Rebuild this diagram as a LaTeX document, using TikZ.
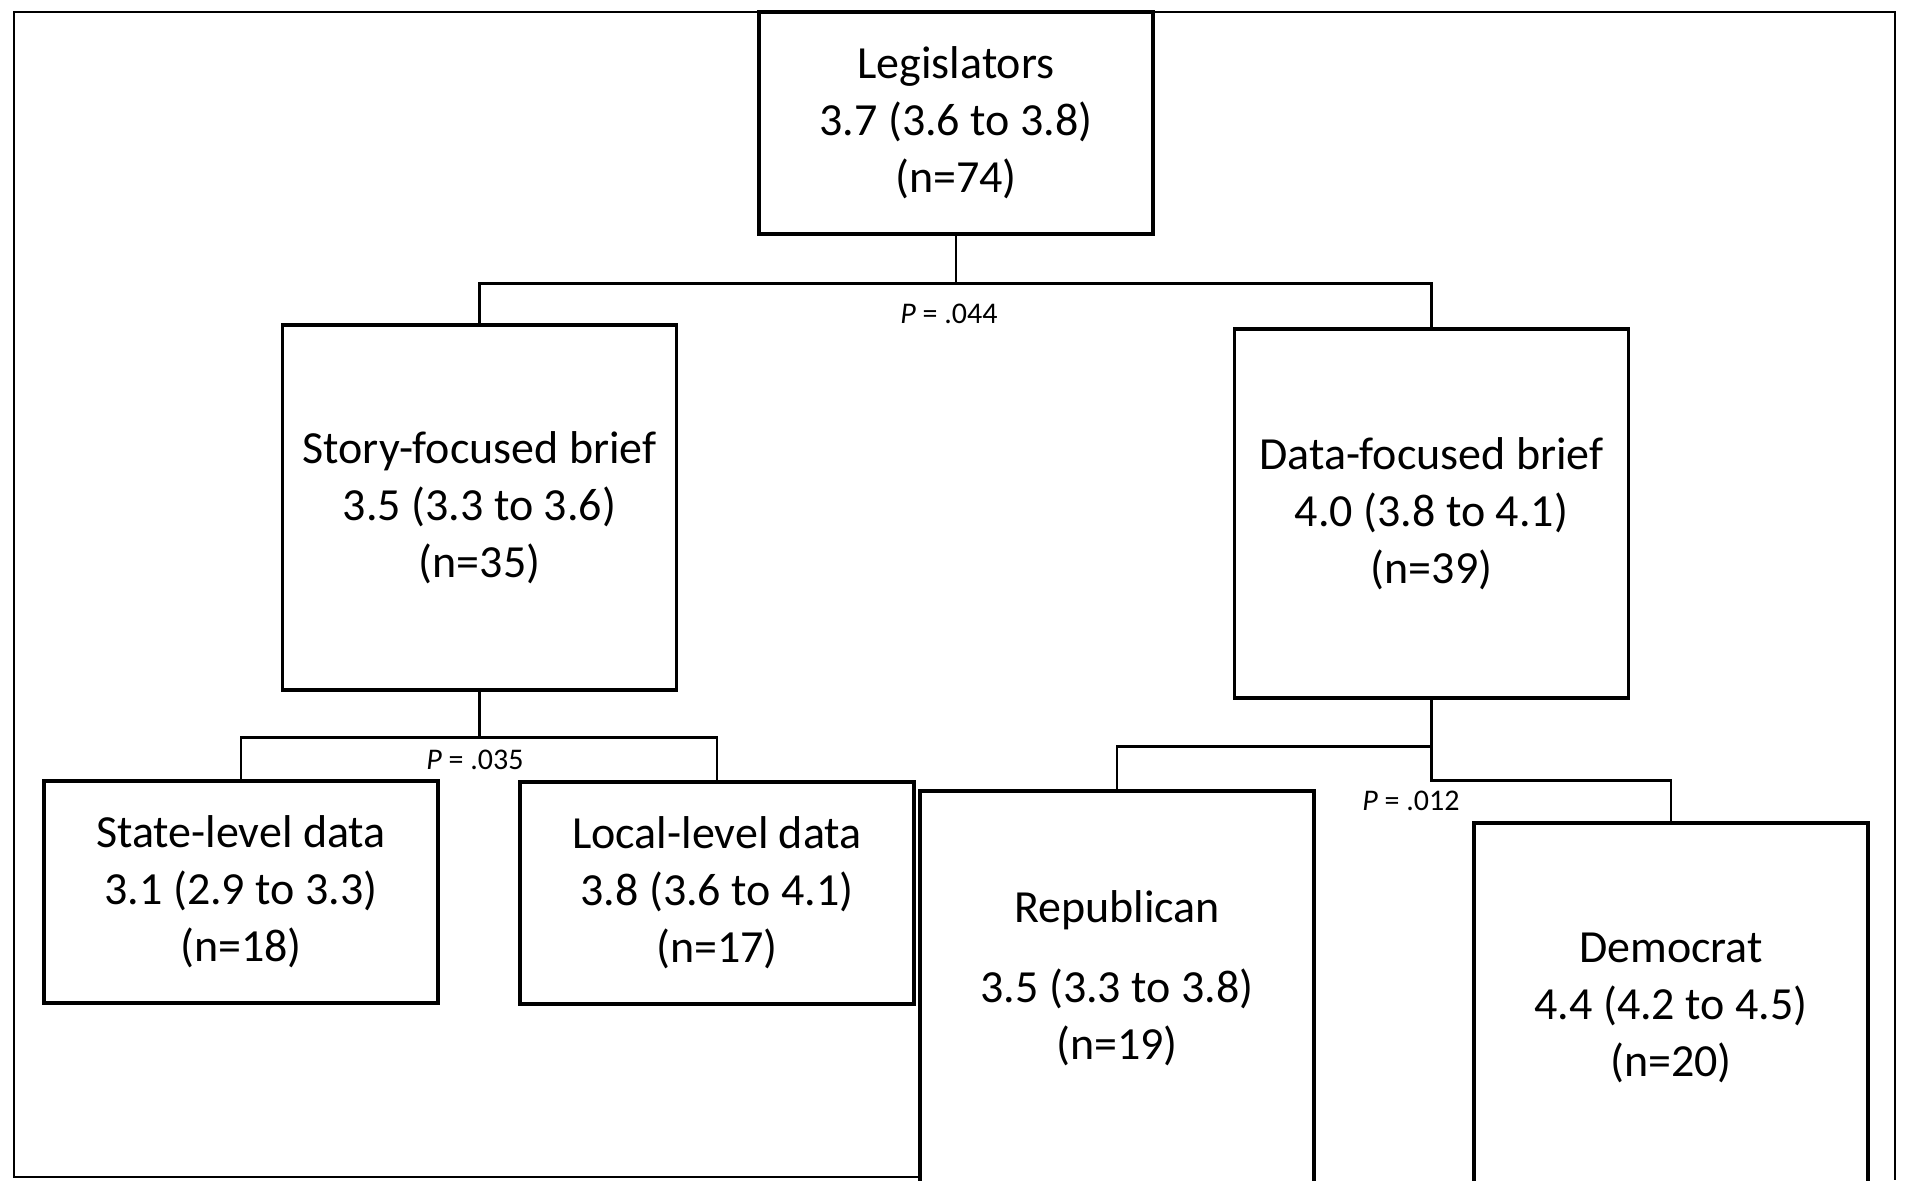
\documentclass[tikz,border=0pt]{standalone}
\usepackage{fontspec}
\setmainfont{Carlito}
\begin{document}
\begin{tikzpicture}[x=0.5pt,y=-0.5pt,
  box/.style={draw=black, line width=1.6pt, fill=white, rectangle, inner sep=0pt,
    align=center, minimum width=197pt, font=\fontsize{23}{28.5}\selectfont},
  txt/.style={inner sep=0pt, align=center, font=\fontsize{23}{28.5}\selectfont},
  conn/.style={line width=1.3pt},
  frame/.style={line width=1.4pt},
  plab/.style={inner sep=0pt, font=\fontsize{15}{18}\selectfont}]
\useasboundingbox (0,0) rectangle (1908,1180);
\clip (0,0) rectangle (1908,1180);
\fill[white] (0,0) rectangle (1908,1180);
\draw[frame] (920,1177) -- (14,1177) -- (14,12) -- (1895,12) -- (1895,1180);

\node[box, minimum height=111pt] (leg) at (956,123) {Legislators\\3.7 (3.6 to 3.8)\\(n=74)};
\node[box, minimum height=182.5pt] (story) at (479.5,507.5) {Story-focused brief\\3.5 (3.3 to 3.6)\\(n=35)};
\node[box, minimum height=184.5pt] (data) at (1431.5,513.5) {Data-focused brief\\4.0 (3.8 to 4.1)\\(n=39)};
\node[box, minimum height=111pt] (state) at (241,892) {State-level data\\3.1 (2.9 to 3.3)\\(n=18)};
\node[box, minimum height=111pt] (local) at (717,893) {Local-level data\\3.8 (3.6 to 4.1)\\(n=17)};
\node[box, minimum height=229.5pt] (rep) at (1117,1020.5) {};
\node[box, minimum height=213.5pt] (dem) at (1671,1036.5) {};
\node[txt] (reptitle) at (1117,910) {Republican};
\node[txt] (repstats) at (1117,1017) {3.5 (3.3 to 3.8)\\(n=19)};
\node[txt] (demtext) at (1671,1008) {Democrat\\4.4 (4.2 to 4.5)\\(n=20)};

\draw[conn] (leg.south) -- ++(0,48) -| (story.north);
\draw[conn] (leg.south) ++(0,48) -| (data.north);
\draw[conn] (story.south) -- ++(0,46) -| (state.north);
\draw[conn] (story.south) ++(0,46) -| (local.north);
\draw[conn] (data.south) -- ++(0,81) -| (dem.north);
\draw[conn] (data.south) ++(0,47) -| (rep.north);

\node[plab] (p1) at (949,314) {\textit{P} = .044};
\node[plab] (p2) at (475,760) {\textit{P} = .035};
\node[plab] (p3) at (1411,801) {\textit{P} = .012};
\end{tikzpicture}
\end{document}
